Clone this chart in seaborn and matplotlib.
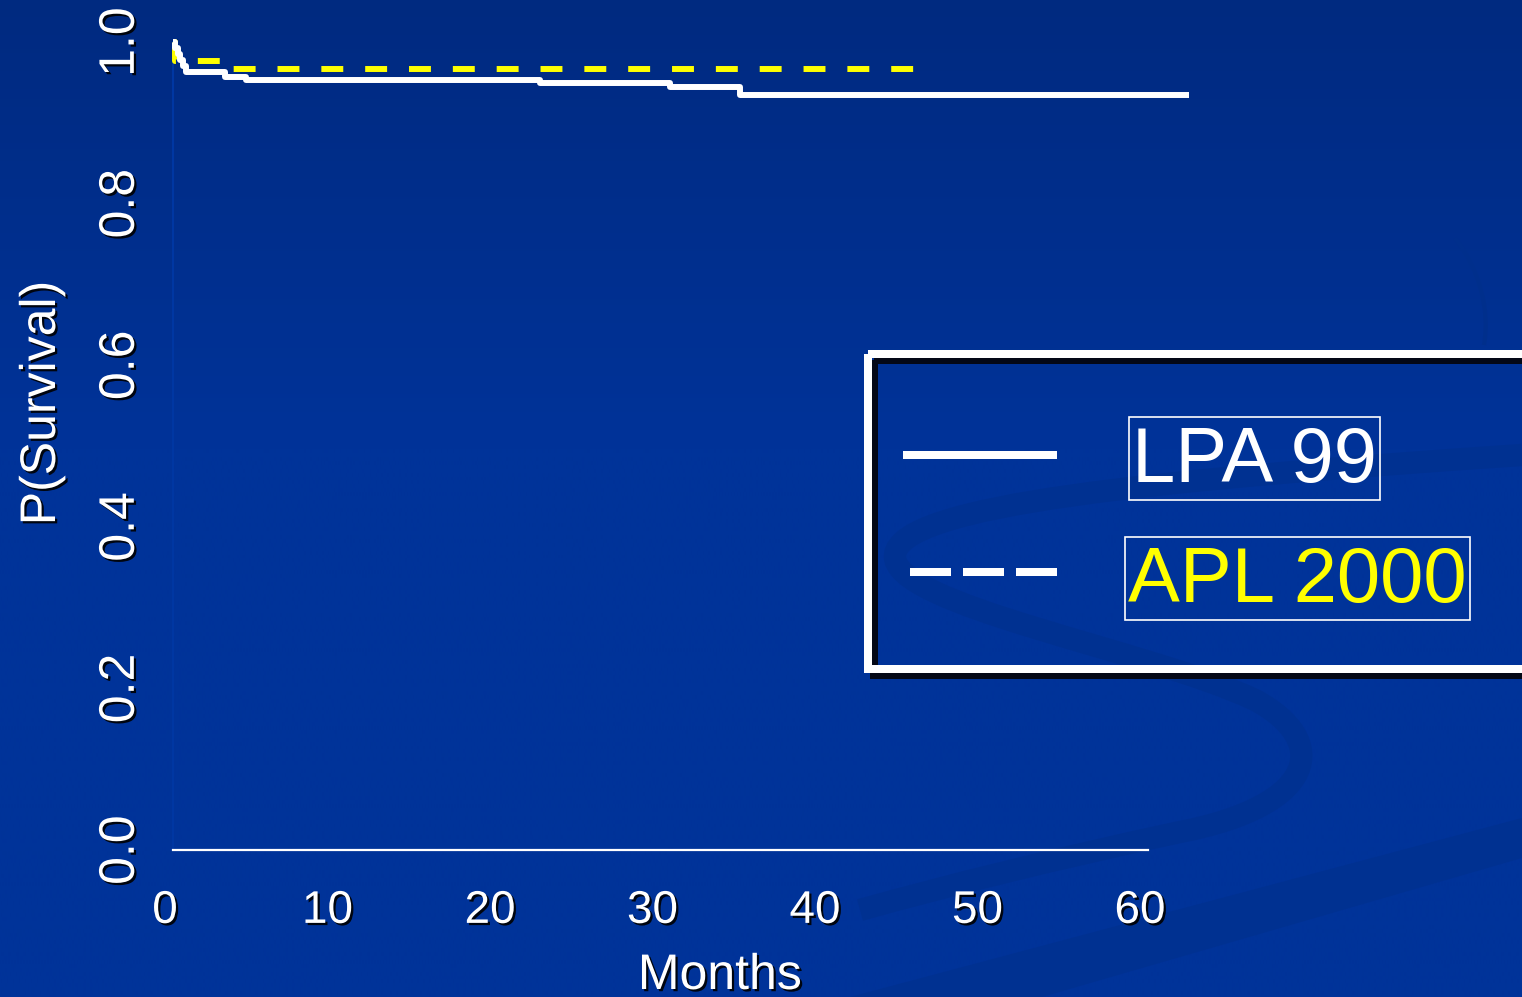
import numpy as np
import pandas as pd
import matplotlib
matplotlib.use("Agg")
import matplotlib.pyplot as plt
import matplotlib.patheffects as pe
from matplotlib.patches import Rectangle, PathPatch, Polygon
from matplotlib.path import Path
from matplotlib.lines import Line2D
from matplotlib.transforms import ScaledTranslation
import seaborn as sns

# Kaplan-Meier survival steps (months, probability)
lpa99_months = [0, 0.15, 0.3, 0.45, 0.6, 0.8, 3.2, 4.5, 22.6, 30.6, 34.9, 62.5]
lpa99_surv = [1.0, 0.992, 0.985, 0.978, 0.970, 0.963, 0.957, 0.953, 0.949, 0.944, 0.935, 0.935]
apl2000_months = [0, 0.15, 3.45, 45.6]
apl2000_surv = [1.0, 0.977, 0.967, 0.967]

series_names = ["LPA 99", "APL 2000"]
series_text_colors = ["white", "#FFFF00"]
x_ticks = [0, 10, 20, 30, 40, 50, 60]
x_tick_labels = ["0", "10", "20", "30", "40", "50", "60"]
y_ticks = [0.0, 0.2, 0.4, 0.6, 0.8, 1.0]
y_tick_labels = ["0.0", "0.2", "0.4", "0.6", "0.8", "1.0"]

sns.set_theme(style="white")
plt.rcParams["font.family"] = ["Liberation Sans", "DejaVu Sans"]

W, H = 1522, 997
fig = plt.figure(figsize=(W / 100, H / 100), dpi=100)
fig.patch.set_facecolor("#003399")

# ---- slide background: vertical gradient with darker swooshes ----
bg = fig.add_axes([0, 0, 1, 1], zorder=-10)
bg.set_xlim(0, W)
bg.set_ylim(H, 0)
bg.axis("off")
top = np.array([0, 42, 128]) / 255
mid = np.array([0, 51, 153]) / 255
rows = np.linspace(0, 1, H)
t = np.clip(rows / 0.45, 0, 1)[:, None]
col = top * (1 - t) + mid * t
grad = np.repeat(col[:, None, :], 4, axis=1)
bg.imshow(grad, extent=(0, W, H, 0), aspect="auto", interpolation="bilinear")

swoosh_col = "#003191"
bg.add_patch(Polygon([(850, 997), (1522, 818), (1522, 858), (1042, 997)],
                     closed=True, fc=swoosh_col, ec="none"))
verts = [(1522, 455),
         (1150, 480), (900, 505), (895, 555),
         (890, 605), (1150, 650), (1255, 700),
         (1330, 740), (1320, 805), (1180, 832),
         (1050, 860), (950, 885), (860, 910)]
codes = [Path.MOVETO] + [Path.CURVE4] * 12
bg.add_patch(PathPatch(Path(verts, codes), fc="none", ec=swoosh_col, lw=16,
                       capstyle="butt"))
arc = Path([(1455, 238), (1480, 270), (1490, 310), (1484, 345)],
           [Path.MOVETO, Path.CURVE4, Path.CURVE4, Path.CURVE4])
bg.add_patch(PathPatch(arc, fc="none", ec="#002F8C", lw=3))

# ---- survival plot ----
px_per_month = 16.25
ax = fig.add_axes([173 / W, 1 - 850 / H, 66 * px_per_month / W, 808 / H])
ax.patch.set_alpha(0)

df_lpa = pd.DataFrame({"Months": lpa99_months, "P": lpa99_surv})
df_apl = pd.DataFrame({"Months": apl2000_months, "P": apl2000_surv})

sns.lineplot(data=df_apl, x="Months", y="P", ax=ax, color="#FFFF00", lw=4.3,
             drawstyle="steps-post", linestyle=(0, (3.67, 3.67)),
             dash_capstyle="butt", clip_on=False, zorder=3)
sns.lineplot(data=df_lpa, x="Months", y="P", ax=ax, color="white", lw=4.3,
             drawstyle="steps-post", solid_capstyle="butt", clip_on=False,
             zorder=4)

ax.set_xlim(0, 66)
ax.set_ylim(0, 1)

for s in ["top", "right"]:
    ax.spines[s].set_visible(False)
ax.spines["bottom"].set_color("white")
ax.spines["bottom"].set_linewidth(1.6)
ax.spines["bottom"].set_bounds(0, 60)
ax.spines["left"].set_color("#0037A2")
ax.spines["left"].set_linewidth(1.5)

shadow = [pe.withSimplePatchShadow(offset=(1.6, -1.6), shadow_rgbFace="black", alpha=0.9)]

ax.set_xticks(x_ticks)
ax.set_xticklabels(x_tick_labels)
ax.set_yticks(y_ticks)
ax.set_yticklabels(y_tick_labels)
ax.tick_params(axis="x", length=0, pad=28, labelsize=33, labelcolor="white")
ax.tick_params(axis="y", length=11, width=1.5, color="#0037A2", pad=10,
               labelsize=36, labelcolor="white", labelrotation=90)

shift = ScaledTranslation(-8 / 100, 0, fig.dpi_scale_trans)
for lbl in ax.get_xticklabels():
    lbl.set_transform(lbl.get_transform() + shift)
    lbl.set_path_effects(shadow)
for lbl in ax.get_yticklabels():
    lbl.set_va("center")
    lbl.set_path_effects(shadow)

ax_w = 66 * px_per_month
ax.set_xlabel("Months", fontsize=36, color="white", path_effects=shadow)
ax.xaxis.set_label_coords((720 - 173) / ax_w, (850 - 953) / 808)
ax.set_ylabel("P(Survival)", fontsize=36, color="white", path_effects=shadow)
ax.yaxis.set_label_coords((65 - 173) / ax_w, (850 - 403) / 808)

# ---- legend box ----
frame_lw = 8 * 0.72
bg.add_patch(Rectangle((874, 360), 700, 315, fill=False, ec="#040816",
                       lw=frame_lw, zorder=5))
bg.add_patch(Rectangle((868, 354), 700, 315, fill=False, ec="white",
                       lw=frame_lw, zorder=6))
bg.add_line(Line2D([903, 1057], [455, 455], color="white", lw=frame_lw,
                   solid_capstyle="butt", zorder=6))
bg.add_line(Line2D([910, 1057], [572, 572], color="white", lw=frame_lw,
                   linestyle=(0, (41 / 8, 12 / 8)), dash_capstyle="butt", zorder=6))

labels = []
for name, c, x0, base in zip(series_names, series_text_colors, [1132, 1128], [482, 602]):
    labels.append(bg.text(x0, base, name, color=c, fontsize=56, ha="left",
                          va="baseline", zorder=7))

# thin outline around each label text, a little taller above than below
fig.canvas.draw()
inv = bg.transData.inverted()
for txt in labels:
    ext = txt.get_window_extent()
    (x0, y_bot), (x1, y_top) = inv.transform([(ext.x0, ext.y0), (ext.x1, ext.y1)])
    bg.add_patch(Rectangle((x0 - 3, y_top - 8), (x1 - x0) + 6, (y_bot - y_top) + 10,
                           fill=False, ec="white", lw=1.2, zorder=7))

fig.savefig("out.png", dpi=100, facecolor=fig.get_facecolor())
